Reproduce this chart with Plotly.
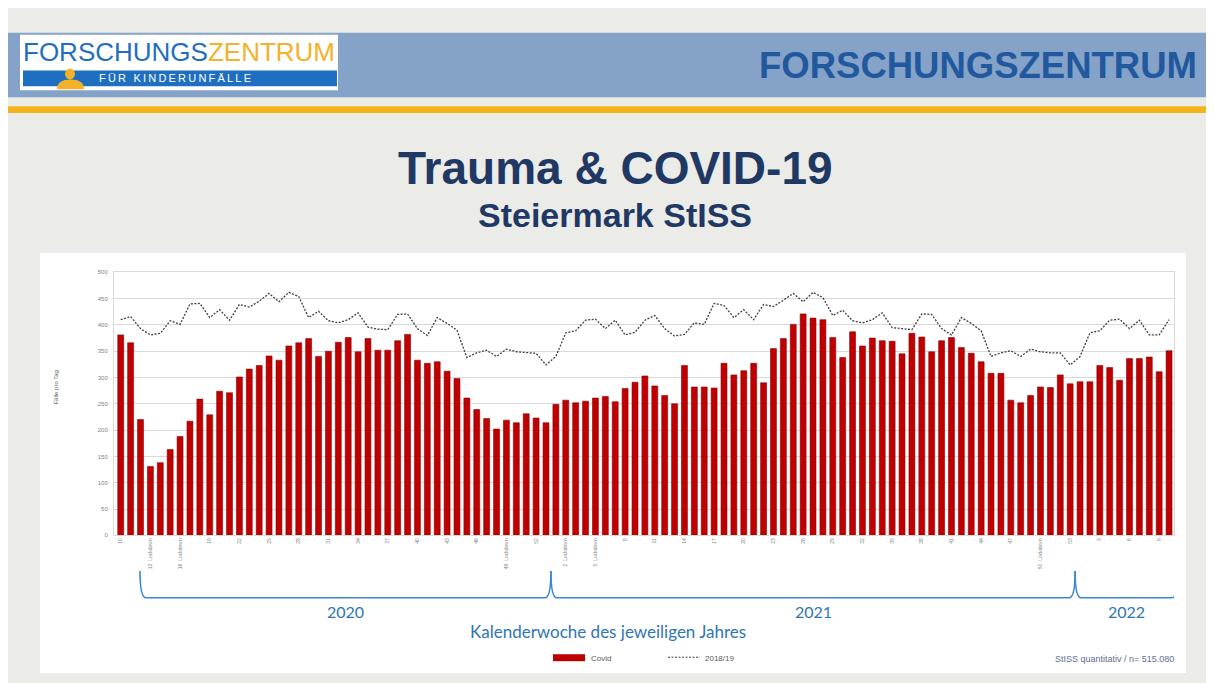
import plotly.graph_objects as go

# ---------------- data ----------------
covid = [381, 366, 220, 131, 138, 163, 188, 217, 259, 229, 274, 271, 301, 316, 323, 341, 333, 360,
         366, 374, 340, 350, 367, 376, 349, 374, 352,
         352, 370, 382, 333, 327, 330, 312, 298, 261, 239, 222, 202, 219, 214, 231, 223, 214,
         249, 257, 252, 255, 261, 264, 254, 279, 291,
         303, 284, 266, 250, 323, 282, 282, 280, 327, 305, 313, 327, 290, 355, 374, 401, 421, 413,
         410, 376, 338, 387, 360, 375, 370, 369,
         345, 384, 377, 349, 370, 376, 357, 346, 330, 308, 308, 257, 252, 266, 282, 281, 305, 288,
         292, 292, 323, 319, 295, 336, 336, 339, 311, 351]
base_1819 = [410, 416, 393, 381, 384, 408, 401, 440, 441, 414, 429, 409, 439, 434, 445, 460, 444, 462,
             454, 414, 426, 408, 404, 410, 423, 396, 392,
             391, 420, 421, 393, 380, 414, 403, 390, 338, 347, 352, 340, 354, 349, 347, 346, 324,
             340, 385, 389, 409, 411, 393, 409, 381, 386,
             409, 418, 393, 379, 382, 404, 401, 441, 437, 414, 429, 410, 439, 435, 447, 460, 444, 462,
             452, 418, 428, 408, 404, 410, 423, 395,
             393, 391, 421, 420, 393, 381, 414, 403, 389, 340, 347, 351, 340, 354, 349, 347, 347, 324,
             340, 385, 389, 409, 411, 393, 409, 381, 381, 410]
year_lengths = {"2020": 44, "2021": 53, "2022": 10}
first_week = {"2020": 10, "2021": 1, "2022": 1}
lockdown_weeks = [3, 6, 39, 45, 48, 93]   # indices of bars with the long tick labels
y_ticks = [0, 50, 100, 150, 200, 250, 300, 350, 400, 450, 500]

# week labels
weeks = []
for yr, n in year_lengths.items():
    weeks += [first_week[yr] + k for k in range(n)]
x = list(range(len(covid)))
tickvals = x[::3]
ticktext = [f"{weeks[i]}  Lockdown" if i in lockdown_weeks else str(weeks[i]) for i in tickvals]

# the page body has an 8px margin: design in window pixels and convert
OX, OY = 8, 8
W, H = 1206, 675
def px(p):  # window pixel x -> paper
    return (p - OX) / W
def py(p):  # window pixel y -> paper
    return 1 - (p - OY) / H

fig = go.Figure()
fig.add_trace(go.Bar(x=x, y=covid, name="Covid",
                     marker=dict(color="#c00000", line=dict(width=0.6, color="#8a0000")),
                     width=0.6, showlegend=False))
fig.add_trace(go.Scatter(x=x, y=base_1819, name="2018/19", mode="lines",
                         line=dict(color="#404040", width=1.3, dash="2px,1.5px"), showlegend=False))

shapes = []
# page elements
shapes.append(dict(type="rect", xref="paper", yref="paper", x0=px(8), x1=px(1214), y0=py(95), y1=py(30),
                   fillcolor="#85a3c8", line=dict(width=0), layer="below"))
shapes.append(dict(type="rect", xref="paper", yref="paper", x0=px(8), x1=px(1214), y0=py(111), y1=py(104),
                   fillcolor="#f2b31b", line=dict(width=0), layer="below"))
# logo
shapes.append(dict(type="rect", xref="paper", yref="paper", x0=px(20), x1=px(338), y0=py(88), y1=py(32),
                   fillcolor="white", line=dict(width=0), layer="below"))
shapes.append(dict(type="rect", xref="paper", yref="paper", x0=px(23), x1=px(337), y0=py(84), y1=py(68),
                   fillcolor="#1f6fc0", line=dict(width=0), layer="below"))
shapes.append(dict(type="circle", xref="paper", yref="paper", x0=px(65), x1=px(75), y0=py(77), y1=py(66),
                   fillcolor="#f5b12a", line=dict(width=0)))
body = (f"M {px(57)},{py(87)} Q {px(57)},{py(77)} {px(70.5)},{py(77)} "
        f"Q {px(84)},{py(77)} {px(84)},{py(87)} Z")
shapes.append(dict(type="path", xref="paper", yref="paper", path=body,
                   fillcolor="#f5b12a", line=dict(width=0)))
# white chart panel
shapes.append(dict(type="rect", xref="paper", yref="paper", x0=px(40), x1=px(1186), y0=py(676), y1=py(252),
                   fillcolor="white", line=dict(width=0), layer="below"))

# year brackets (data x)
bounds = [1.95, 43.5, 96.5, 106.9]
r = 0.6
for a, b in zip(bounds[:-1], bounds[1:]):
    ytop, ybot = py(573), py(600)
    path = f"M {a},{ytop} Q {a},{ybot} {a + r},{ybot} L {b - r},{ybot} Q {b},{ybot} {b},{ytop}"
    shapes.append(dict(type="path", xref="x", yref="paper", path=path,
                       line=dict(color="#3d87d3", width=1.6)))

# legend marks
shapes.append(dict(type="rect", xref="paper", yref="paper", x0=px(553), x1=px(585), y0=py(664), y1=py(657),
                   fillcolor="#c00000", line=dict(width=0)))
shapes.append(dict(type="line", xref="paper", yref="paper", x0=px(668), x1=px(700), y0=py(660), y1=py(660),
                   line=dict(color="#404040", width=1, dash="2px,1.5px")))

thin = "\u2009"
sub_logo = (thin + " " + thin).join(thin.join(list(w)) for w in ["FÜR", "KINDERUNFÄLLE"])

annotations = []
annotations.append(dict(xref="paper", yref="paper", x=px(179), y=py(49), xanchor="center", yanchor="middle",
                        text="<span style='color:#1f6fc0'>FORSCHUNGS</span><span style='color:#f5b12a'>ZENTRUM</span>",
                        showarrow=False,
                        font=dict(family="Liberation Sans", size=26)))
annotations.append(dict(xref="paper", yref="paper", x=px(97), y=py(76), xanchor="left", yanchor="middle",
                        text=sub_logo, showarrow=False,
                        font=dict(family="Liberation Sans", size=11, color="white")))
annotations.append(dict(xref="paper", yref="paper", x=px(1199), y=py(63), xanchor="right", yanchor="middle",
                        text="<b>FORSCHUNGSZENTRUM</b>", showarrow=False,
                        font=dict(family="Liberation Sans", size=36.5, color="#22589e")))
annotations.append(dict(xref="paper", yref="paper", x=px(615), y=py(166), xanchor="center", yanchor="middle",
                        text="<b>Trauma &amp; COVID-19</b>", showarrow=False,
                        font=dict(family="Liberation Sans", size=46, color="#1f3864")))
annotations.append(dict(xref="paper", yref="paper", x=px(615), y=py(214), xanchor="center", yanchor="middle",
                        text="<b>Steiermark StISS</b>", showarrow=False,
                        font=dict(family="Liberation Sans", size=34, color="#1f3864")))
annotations.append(dict(xref="paper", yref="paper", x=px(56), y=py(388), xanchor="center", yanchor="middle",
                        text="Fälle pro Tag", textangle=-90, showarrow=False,
                        font=dict(family="Liberation Sans", size=6, color="#595959")))
for lab, xc in [("2020", 22.7), ("2021", 70.0), ("2022", 101.7)]:
    annotations.append(dict(xref="x", yref="paper", x=xc, y=py(614), xanchor="center", yanchor="middle",
                            text=lab, showarrow=False,
                            font=dict(family="Lato, Liberation Sans", size=16, color="#2e75b6")))
annotations.append(dict(xref="paper", yref="paper", x=px(608), y=py(634), xanchor="center", yanchor="middle",
                        text="Kalenderwoche des jeweiligen Jahres", showarrow=False,
                        font=dict(family="Lato, Liberation Sans", size=17, color="#2e75b6")))
annotations.append(dict(xref="paper", yref="paper", x=px(589), y=py(661), xanchor="left", yanchor="middle",
                        text="Covid", showarrow=False,
                        font=dict(family="Liberation Sans", size=8, color="#595959")))
annotations.append(dict(xref="paper", yref="paper", x=px(703), y=py(661), xanchor="left", yanchor="middle",
                        text="2018/19", showarrow=False,
                        font=dict(family="Liberation Sans", size=8, color="#595959")))
annotations.append(dict(xref="paper", yref="paper", x=px(1176), y=py(662), xanchor="right", yanchor="middle",
                        text="StISS quantitativ / n= 515.080", showarrow=False,
                        font=dict(family="Liberation Sans", size=9, color="#5f6f8f")))

fig.update_layout(
    width=W, height=H,
    margin=dict(l=0, r=0, t=0, b=0),
    paper_bgcolor="#ebebe8",
    plot_bgcolor="white",
    shapes=shapes,
    annotations=annotations,
    xaxis=dict(domain=[px(114), px(1174)], range=[-0.68, 106.5], tickmode="array",
               tickvals=tickvals, ticktext=ticktext, tickangle=-90,
               tickfont=dict(family="Liberation Sans", size=5, color="#7f7f7f"),
               showgrid=False, zeroline=False, showline=True, linecolor="#d9d9d9", mirror=True,
               ticks="", fixedrange=True),
    yaxis=dict(domain=[py(537), py(271.7)], range=[0, 500], tickmode="array", tickvals=y_ticks,
               tickfont=dict(family="Liberation Sans", size=6, color="#7f7f7f"),
               showgrid=True, gridcolor="#d9d9d9", gridwidth=1, zeroline=False,
               showline=True, linecolor="#d9d9d9", mirror=True, ticks="", ticklabelstandoff=4),
)

fig.write_html("out.html")
